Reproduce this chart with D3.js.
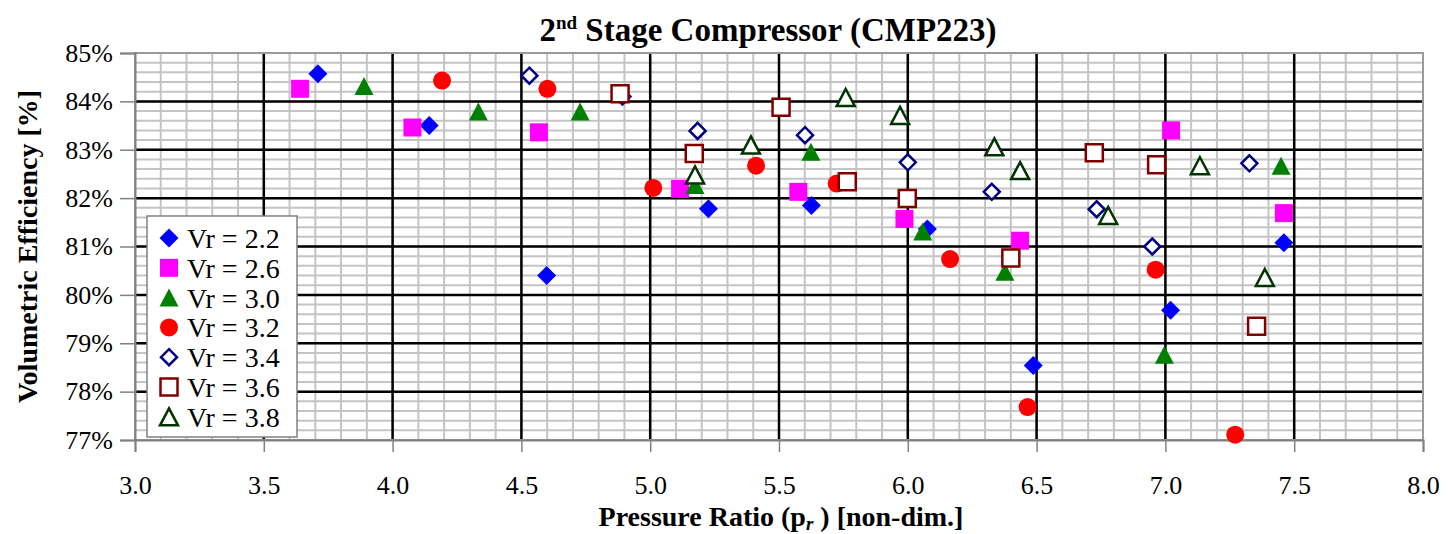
<!DOCTYPE html>
<html>
<head>
<meta charset="utf-8">
<script src="https://cdn.jsdelivr.net/npm/d3@7"></script>
<style>
  body { margin: 0; background: #fff; }
  svg text { font-family: "Liberation Serif", "Times New Roman", Times, "DejaVu Serif", serif; }
</style>
</head>
<body>
<div id="chart"></div>
<script>
// series labels and values
const seriesLabels = ["Vr = 2.2", "Vr = 2.6", "Vr = 3.0", "Vr = 3.2", "Vr = 3.4", "Vr = 3.6", "Vr = 3.8"];

const prVr22 = [3.710, 4.142, 4.598, 5.226, 5.626, 6.076, 6.487, 7.020, 7.460];
const veVr22 = [84.57, 83.50, 80.40, 81.78, 81.85, 81.36, 78.54, 79.68, 81.08];

const prVr26 = [3.641, 4.077, 4.568, 5.116, 5.575, 5.987, 6.436, 7.022, 7.460];
const veVr26 = [84.26, 83.46, 83.36, 82.19, 82.13, 81.57, 81.12, 83.40, 81.69];

const prVr30 = [3.889, 4.333, 4.728, 5.174, 5.624, 6.058, 6.377, 7.449, 6.996];
const veVr30 = [84.32, 83.79, 83.79, 82.27, 82.96, 81.31, 80.48, 82.67, 78.76];

const prVr32 = [4.192, 4.601, 5.012, 5.411, 5.724, 6.164, 6.465, 6.962, 7.271];
const veVr32 = [84.43, 84.26, 82.21, 82.67, 82.30, 80.74, 77.68, 80.52, 77.11];

const prVr34 = [4.531, 4.892, 5.184, 5.601, 6.000, 6.326, 6.733, 6.949, 7.326];
const veVr34 = [84.53, 84.10, 83.39, 83.30, 82.74, 82.13, 81.77, 81.00, 82.72];

const prVr36 = [4.883, 5.171, 5.508, 5.765, 5.998, 6.400, 6.724, 6.966, 7.354];
const veVr36 = [84.16, 82.92, 83.88, 82.34, 81.99, 80.76, 82.94, 82.69, 79.35];

const prVr38 = [5.174, 5.391, 5.759, 5.970, 6.336, 6.436, 6.778, 7.134, 7.386];
const veVr38 = [82.48, 83.10, 84.08, 83.71, 83.06, 82.57, 81.64, 82.67, 80.36];

const xTicks = [3.0, 3.5, 4.0, 4.5, 5.0, 5.5, 6.0, 6.5, 7.0, 7.5, 8.0];
const yTicks = [77, 78, 79, 80, 81, 82, 83, 84, 85];

const prList = [prVr22, prVr26, prVr30, prVr32, prVr34, prVr36, prVr38];
const veList = [veVr22, veVr26, veVr30, veVr32, veVr34, veVr36, veVr38];

const serifFont = '"Liberation Serif", "Times New Roman", Times, "DejaVu Serif", serif';

// marker look for each series
const markers = [
  {shape: "diamond",  fill: "#0000ff", stroke: "none"},
  {shape: "square",   fill: "#ff00ff", stroke: "none"},
  {shape: "triangle", fill: "#008000", stroke: "none"},
  {shape: "circle",   fill: "#ff0000", stroke: "none"},
  {shape: "diamond",  fill: "#ffffff", stroke: "#000080"},
  {shape: "square",   fill: "#ffffff", stroke: "#800000"},
  {shape: "triangle", fill: "#ffffff", stroke: "#003300"}
];

const series = seriesLabels.map((label, i) => ({
  label: label,
  marker: markers[i],
  points: prList[i].map((x, j) => ({x: x, y: veList[i][j]}))
}));

function shapePath(shape, open) {
  if (shape === "diamond") {
    const r = open ? 8 : 9.5;
    return `M0,${-r}L${r},0L0,${r}L${-r},0Z`;
  }
  if (shape === "square") {
    const h = open ? 8.5 : 9;
    return `M${-h},${-h}H${h}V${h}H${-h}Z`;
  }
  if (shape === "triangle") {
    const w = open ? 9 : 9.5, t = open ? 8.5 : 9;
    return `M0,${-t}L${w},${t}L${-w},${t}Z`;
  }
  return d3.symbol(d3.symbolCircle, Math.PI * 81)();
}

const width = 1448, height = 534;
const margin = {top: 53, right: 25, bottom: 94, left: 135};
const innerW = width - margin.left - margin.right;
const innerH = height - margin.top - margin.bottom;

const svg = d3.select("#chart").append("svg")
  .attr("width", width)
  .attr("height", height)
  .attr("font-family", serifFont);

const g = svg.append("g")
  .attr("transform", `translate(${margin.left},${margin.top})`);

const xScale = d3.scaleLinear().domain([3, 8]).range([0, innerW]);
const yScale = d3.scaleLinear().domain([77, 85]).range([innerH, 0]);

// minor grid
const minorX = d3.range(30, 81).map(d => d / 10);
const minorY = d3.range(385, 426).map(d => d / 5);

g.append("g").selectAll("line")
  .data(minorX)
  .join("line")
    .attr("x1", d => xScale(d)).attr("x2", d => xScale(d))
    .attr("y1", 0).attr("y2", innerH)
    .attr("stroke", "#c4c4c4").attr("stroke-width", 2);

g.append("g").selectAll("line")
  .data(minorY)
  .join("line")
    .attr("x1", 0).attr("x2", innerW)
    .attr("y1", d => yScale(d)).attr("y2", d => yScale(d))
    .attr("stroke", "#c4c4c4").attr("stroke-width", 2);

// major grid
g.append("g").selectAll("line")
  .data(xTicks.slice(1, -1))
  .join("line")
    .attr("x1", d => xScale(d)).attr("x2", d => xScale(d))
    .attr("y1", 0).attr("y2", innerH)
    .attr("stroke", "#000").attr("stroke-width", 2.5);

g.append("g").selectAll("line")
  .data(yTicks.slice(1, -1))
  .join("line")
    .attr("x1", 0).attr("x2", innerW)
    .attr("y1", d => yScale(d)).attr("y2", d => yScale(d))
    .attr("stroke", "#000").attr("stroke-width", 2.5);

// plot border
g.append("rect")
  .attr("width", innerW).attr("height", innerH)
  .attr("fill", "none").attr("stroke", "#9a9a9a").attr("stroke-width", 2);

// axes
const xAxis = d3.axisBottom(xScale).tickValues(xTicks).tickFormat(d3.format(".1f")).tickSize(12).tickPadding(24);
const yAxis = d3.axisLeft(yScale).tickValues(yTicks).tickFormat(d => d + "%").tickSize(15).tickPadding(7);

const xAxisGroup = g.append("g")
  .attr("transform", `translate(0,${innerH})`)
  .call(xAxis);
const yAxisGroup = g.append("g").call(yAxis);

[xAxisGroup, yAxisGroup].forEach(ax => {
  ax.attr("font-family", serifFont).attr("font-size", 26);
  ax.select(".domain").attr("stroke", "#808080").attr("stroke-width", 2);
  ax.selectAll(".tick line").attr("stroke", "#808080").attr("stroke-width", 1.5);
  ax.selectAll(".tick text").attr("fill", "#000");
});

// points
const seriesGroups = g.append("g").selectAll("g")
  .data(series)
  .join("g");

seriesGroups.selectAll("path")
  .data(d => d.points.map(p => ({p: p, m: d.marker})))
  .join("path")
    .attr("transform", d => `translate(${xScale(d.p.x)},${yScale(d.p.y)})`)
    .attr("d", d => shapePath(d.m.shape, d.m.stroke !== "none"))
    .attr("fill", d => d.m.fill)
    .attr("stroke", d => d.m.stroke)
    .attr("stroke-width", 2.5);

// title
const title = svg.append("text")
  .attr("x", 768).attr("y", 41)
  .attr("text-anchor", "middle")
  .attr("font-size", 33).attr("font-weight", "bold");
title.append("tspan").text("2");
title.append("tspan").attr("font-size", 19).attr("dy", -12).text("nd");
title.append("tspan").attr("dy", 12).text(" Stage Compressor (CMP223)");

// x title
const xTitle = svg.append("text")
  .attr("x", 781).attr("y", 526)
  .attr("text-anchor", "middle")
  .attr("font-size", 28).attr("font-weight", "bold");
xTitle.append("tspan").text("Pressure Ratio (p");
xTitle.append("tspan").attr("font-style", "italic").attr("font-size", 19).attr("dy", 4).text("r");
xTitle.append("tspan").attr("dy", -4).text(" ) [non-dim.]");

// y title
svg.append("text")
  .attr("transform", `translate(37,${margin.top + innerH / 2}) rotate(-90)`)
  .attr("text-anchor", "middle")
  .attr("font-size", 28).attr("font-weight", "bold")
  .text("Volumetric Efficiency [%]");

// legend
const legend = svg.append("g").attr("transform", "translate(147,216)");
legend.append("rect")
  .attr("width", 150).attr("height", 221)
  .attr("fill", "#fff").attr("stroke", "#808080").attr("stroke-width", 1.5);

const legendRows = legend.selectAll("g")
  .data(series)
  .join("g")
    .attr("transform", (d, i) => `translate(22,${22 + i * 29.8})`);

legendRows.append("path")
  .attr("d", d => shapePath(d.marker.shape, d.marker.stroke !== "none"))
  .attr("fill", d => d.marker.fill)
  .attr("stroke", d => d.marker.stroke)
  .attr("stroke-width", 2.5);

legendRows.append("text")
  .attr("x", 18).attr("y", 10)
  .attr("font-size", 28)
  .text(d => d.label);
</script>
</body>
</html>
